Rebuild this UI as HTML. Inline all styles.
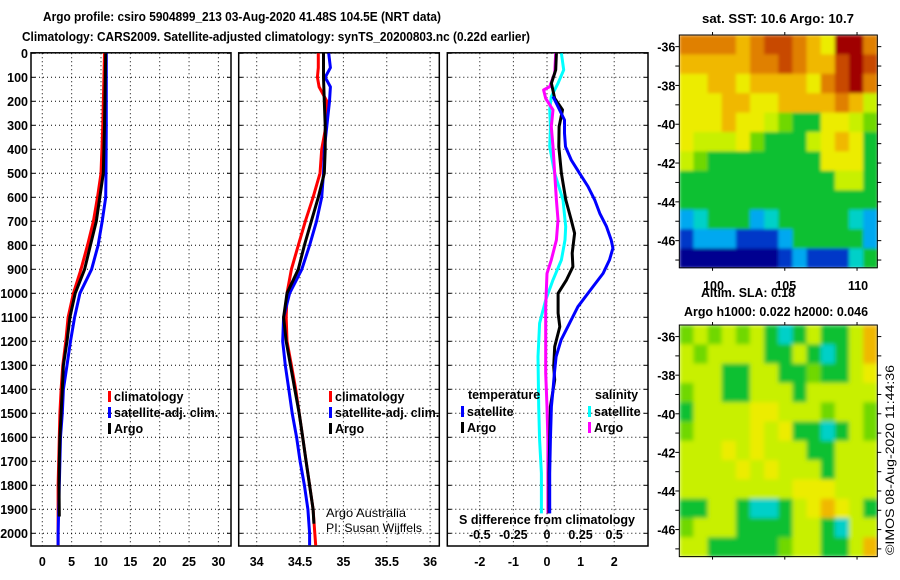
<!DOCTYPE html>
<html><head><meta charset="utf-8"><style>
html,body{margin:0;padding:0;background:#fff}
svg{display:block;font-family:"Liberation Sans",sans-serif}
.b{font-weight:bold;font-size:12.5px;fill:#000}
</style></head><body>
<svg id="c" width="900" height="580" viewBox="0 0 900 580" xmlns="http://www.w3.org/2000/svg">
<defs>
<filter id="blurS" x="0" y="0" width="1" height="1"><feGaussianBlur stdDeviation="2.2" edgeMode="duplicate"/></filter>
<filter id="blurT" x="0" y="0" width="1" height="1"><feGaussianBlur stdDeviation="1.5" edgeMode="duplicate"/></filter>
</defs>
<text x="242" y="21" class="b" text-anchor="middle" textLength="398" lengthAdjust="spacingAndGlyphs">Argo profile: csiro 5904899_213 03-Aug-2020 41.48S 104.5E (NRT data)</text>
<text x="22" y="41" class="b" textLength="508" lengthAdjust="spacingAndGlyphs">Climatology: CARS2009. Satellite-adjusted climatology: synTS_20200803.nc (0.22d earlier)</text>
<text x="778" y="23" class="b" text-anchor="middle" textLength="152" lengthAdjust="spacingAndGlyphs">sat. SST: 10.6 Argo: 10.7</text>
<text x="748" y="297" class="b" text-anchor="middle" textLength="94" lengthAdjust="spacingAndGlyphs">Altim. SLA: 0.18</text>
<text x="776" y="316" class="b" text-anchor="middle" textLength="184" lengthAdjust="spacingAndGlyphs">Argo h1000: 0.022 h2000: 0.046</text>
<text transform="translate(894,460) rotate(-90)" text-anchor="middle" font-size="12" textLength="190" lengthAdjust="spacingAndGlyphs">©IMOS 08-Aug-2020 11:44:36</text>
<text x="326" y="517" font-size="12" textLength="80" lengthAdjust="spacingAndGlyphs">Argo Australia</text>
<text x="326" y="532" font-size="12" textLength="96" lengthAdjust="spacingAndGlyphs">PI: Susan Wijffels</text>
<g id="plots"></g>
</svg>
<script>
// ---- data ----
const depthTicks=[0,100,200,300,400,500,600,700,800,900,1000,1100,1200,1300,1400,1500,1600,1700,1800,1900,2000];
const tempTicks=[0,5,10,15,20,25,30];
const salTicks=[34,34.5,35,35.5,36];
const diffTicks=[-2,-1,0,1,2];
const sdiffTickLabels=["-0.5","-0.25","0","0.25","0.5"];
const sdiffTicks=[-0.5,-0.25,0,0.25,0.5];
const profDepths=[0,300,500,600,700,800,900,1000,1100,1200,1300,1400,1500,1600,1700,1800,1900,2000,2050];
const tempClim=[10.6,10.3,10.0,9.4,8.7,7.7,6.6,5.3,4.4,4.0,3.5,3.2,3.0,2.9,2.8,2.7,2.7,2.7,2.7];
const tempSat=[10.9,10.9,10.85,10.8,10.2,9.5,8.4,6.4,5.5,4.8,4.2,3.6,3.4,3.1,3.0,2.9,2.8,2.7,2.7];
const tempArgoD=[0,300,500,600,700,800,900,1000,1100,1200,1300,1400,1500,1600,1700,1800,1930];
const tempArgo=[10.8,10.6,10.4,9.8,9.2,8.2,7.2,5.6,4.7,4.2,3.6,3.4,3.2,3.0,2.9,2.85,2.9];
const salD=[0,60,100,140,200,300,400,500,600,700,800,900,1000,1100,1200,1300,1400,1500,1600,1700,1800,1900,2000,2050];
const salClim=[34.71,34.71,34.70,34.72,34.81,34.80,34.75,34.73,34.65,34.56,34.48,34.40,34.35,34.34,34.35,34.40,34.45,34.49,34.53,34.57,34.61,34.65,34.67,34.68];
const salSat=[34.83,34.85,34.79,34.85,34.84,34.81,34.78,34.77,34.75,34.69,34.61,34.52,34.38,34.31,34.30,34.33,34.37,34.41,34.46,34.50,34.55,34.59,34.61,34.61];
const salArgoD=[0,100,200,300,400,500,600,700,800,900,1000,1100,1200,1300,1400,1500,1600,1700,1800,1900,1960];
const salArgo=[34.77,34.77,34.78,34.79,34.79,34.78,34.71,34.63,34.55,34.48,34.35,34.31,34.34,34.39,34.44,34.49,34.53,34.57,34.61,34.65,34.66];
const tdSatD=[180,278,333,389,444,500,555,611,667,722,778,812,861,917,972,1056,1125,1194,1264,1333,1403,1472,1611,1750,1917];
const tdSat=[0.18,0.52,0.52,0.55,0.72,0.97,1.22,1.42,1.57,1.77,1.91,1.96,1.86,1.67,1.37,0.92,0.67,0.42,0.27,0.22,0.18,0.13,0.10,0.08,0.08];
const tdArgoD=[0,69,125,188,236,306,389,500,611,694,750,833,889,944,1000,1083,1139,1222,1306,1361,1472,1611,1750,1917];
const tdArgo=[0.28,0.26,0.13,0.23,0.46,0.36,0.35,0.43,0.56,0.72,0.82,0.75,0.77,0.58,0.33,0.33,0.38,0.23,0.20,0.23,0.10,0.08,0.06,0.06];
const sdD=[0,69,125,180,236,306,389,500,611,722,778,861,944,1028,1125,1264,1472,1611,1750,1917];
const sdSat=[0.107,0.124,0.082,0.032,0.020,0.025,0.020,0.057,0.119,0.139,0.134,0.107,0.045,-0.010,-0.055,-0.067,-0.062,-0.055,-0.042,-0.042];
const sdArgoD=[0,83,139,153,188,236,306,389,500,611,694,778,861,917,1056,1194,1333,1472,1611,1917];
const sdArgo=[0.065,0.057,0.020,-0.025,-0.010,0.045,0.032,0.045,0.057,0.070,0.082,0.070,0.032,0.000,-0.010,-0.010,-0.010,0.000,0.007,0.007];
const lonTicks=[100,105,110];
const latTicks=[-36,-38,-40,-42,-44,-46];
const sstGrid=[
[9,9,9,9,8,9,10,10,9,8,7,11,11,9],
[8,8,8,8,8,9,9,10,9,8,8,10,11,10],
[7,7,8,8,7,8,8,8,8,7,9,10,11,9],
[7,7,7,8,8,7,7,8,8,8,8,9,8,6],
[7,7,7,8,7,7,6,5,4,4,7,7,6,5],
[7,6,6,6,7,5,4,4,4,6,7,8,7,4],
[6,5,4,4,4,4,4,4,4,4,7,7,7,4],
[4,4,4,4,4,4,4,4,4,4,4,6,6,4],
[4,4,4,4,4,4,4,4,4,4,4,4,4,4],
[2,3,4,4,4,2,3,4,4,4,4,4,3,2],
[1,2,2,2,1,1,1,2,4,4,4,4,4,2],
[0,0,0,0,0,0,0,1,2,1,1,1,3,4]];
const slaGrid=[
[5,6,5,6,5,6,4,3,4,6,4,4,6,8],
[6,5,6,6,6,6,4,4,6,4,3,4,6,8],
[6,6,6,4,4,6,6,4,4,5,4,4,6,7],
[5,6,6,4,4,6,6,6,4,6,6,6,6,6],
[4,6,6,6,6,7,7,6,6,6,5,6,6,5],
[5,6,6,6,6,7,6,7,4,4,3,4,6,5],
[6,6,6,7,6,7,6,6,6,4,4,6,6,6],
[6,6,6,6,7,6,7,6,6,6,4,6,6,6],
[6,6,6,6,6,6,6,6,7,7,7,6,6,6],
[4,4,6,6,4,3,3,4,6,7,8,7,6,4],
[5,6,6,6,4,4,4,4,6,6,4,3,6,6],
[6,6,4,4,4,4,4,5,6,6,4,4,6,8]];
const palette=["#000090","#0038c8","#00a8f0","#00d0c8","#10c030","#70d800","#c8f000","#ecec00","#f0b800","#e08000","#c84800","#a00000"];

// ---- helpers ----
const NS="http://www.w3.org/2000/svg";
const root=document.getElementById('plots');
function mk(tag,attrs,parent){const e=document.createElementNS(NS,tag);for(const k in attrs)e.setAttribute(k,attrs[k]);(parent||root).appendChild(e);return e;}
const Y0=53.3,YS=0.24,YB=546;
const yD=d=>Y0+d*YS;
function panel(name,x0,x1,xf,ticks,labels){
  const g=mk('g',{});
  
  
  depthTicks.forEach(d=>{const l=mk('line',{x1:x0,x2:x1,y1:yD(d),y2:yD(d),stroke:'#000','stroke-width':1,'stroke-dasharray':'1,3'},g);
    
    
    mk('line',{x1:x0,x2:x0+4,y1:yD(d),y2:yD(d),stroke:'#000'},g);mk('line',{x1:x1-4,x2:x1,y1:yD(d),y2:yD(d),stroke:'#000'},g);});
  ticks.forEach((t,i)=>{const x=xf(t);const l=mk('line',{x1:x,x2:x,y1:Y0,y2:YB,stroke:'#000','stroke-dasharray':'1,3'},g);
    
    
    const tx=mk('text',{x:x,y:566,class:'b','text-anchor':'middle'},g);tx.textContent=labels[i];
    
    });
  const r=mk('rect',{x:x0,y:Y0-0.5,width:x1-x0,height:YB-Y0+0.5,fill:'none',stroke:'#000','stroke-width':1.5},g);
  
  
  return g;
}
function line(g,name,ds,vs,xf,col){
  const p=mk('polyline',{points:ds.map((d,i)=>xf(vs[i]).toFixed(1)+','+yD(d).toFixed(1)).join(' '),fill:'none',stroke:col,'stroke-width':3,'stroke-linejoin':'round'},g);
  
  
}
function legend(g,x,y,col,txt){
  mk('rect',{x:x-3,y:y-9,width:3,height:11,fill:col},g);
  const t=mk('text',{x:x+3,y:y+1,class:'b'},g);t.textContent=txt;
  
  
}
depthTicks.forEach(d=>{const t=mk('text',{x:28,y:yD(d)+4.5,class:'b','text-anchor':'end'});t.textContent=d;
  
  });
const xT=v=>42.3+v*5.87;
const g1=panel('temperature-panel',31,231,xT,tempTicks,tempTicks.map(String));
line(g1,'temp-climatology-line',profDepths,tempClim,xT,'#ff0000');
line(g1,'temp-satellite-line',profDepths,tempSat,xT,'#0000ff');
line(g1,'temp-argo-line',tempArgoD,tempArgo,xT,'#000');
legend(g1,111,400,'#ff0000','climatology');legend(g1,111,416,'#0000ff','satellite-adj. clim.');legend(g1,111,432,'#000','Argo');
const xS=v=>256.7+(v-34)*86.7;
const g2=panel('salinity-panel',238.7,439.3,xS,salTicks,salTicks.map(String));
line(g2,'sal-climatology-line',salD,salClim,xS,'#ff0000');
line(g2,'sal-satellite-line',salD,salSat,xS,'#0000ff');
line(g2,'sal-argo-line',salArgoD,salArgo,xS,'#000');
legend(g2,332,400,'#ff0000','climatology');legend(g2,332,416,'#0000ff','satellite-adj. clim.');legend(g2,332,432,'#000','Argo');
const xDf=v=>547+v*33.6;
const xSd=v=>547+v*4*33.6;
const g3=panel('difference-panel',447.3,648,xDf,diffTicks,diffTicks.map(String));
line(g3,'sdiff-satellite-line',sdD,sdSat,xSd,'#00ffff');
line(g3,'sdiff-argo-line',sdArgoD,sdArgo,xSd,'#ff00ff');
line(g3,'tdiff-argo-line',tdArgoD,tdArgo,xDf,'#000');
line(g3,'tdiff-satellite-line',tdSatD,tdSat,xDf,'#0000ff');
{const t=mk('text',{x:468,y:399,class:'b'},g3);t.textContent='temperature';
 
 
 const s=mk('text',{x:595,y:399,class:'b'},g3);s.textContent='salinity';
 
 }
legend(g3,464,415,'#0000ff','satellite');legend(g3,464,431,'#000','Argo');
legend(g3,591,415,'#00ffff','satellite');legend(g3,591,431,'#ff00ff','Argo');
{const t=mk('text',{x:547,y:524,class:'b','text-anchor':'middle',textLength:176,lengthAdjust:'spacingAndGlyphs'},g3);t.textContent='S difference from climatology';
 
 }
sdiffTicks.forEach((v,i)=>{const t=mk('text',{x:xSd(v),y:539,class:'b','text-anchor':'middle'},g3);t.textContent=sdiffTickLabels[i];
 
 });
function map(name,grid,top,latTop,latPer,showLon,filt){
  const X0=679.3,X1=877.3,lon0=97.7,lonS=14.45;
  const bottom=top+12*latPer;
  const g=mk('g',{});
  
  
  const cells=mk('g',{filter:'url(#'+filt+')'},g);
  const cw=(X1-X0)/grid[0].length,ch=latPer;
  grid.forEach((row,r)=>row.forEach((v,c)=>{const cell=mk('rect',{x:(X0+c*cw).toFixed(2),y:(top+r*ch).toFixed(2),width:(cw+0.6).toFixed(2),height:(ch+0.6).toFixed(2),fill:palette[v]},cells);
    
    }));
  const fr=mk('rect',{x:X0,y:top,width:X1-X0,height:bottom-top,fill:'none',stroke:'#000','stroke-width':1},g);
  
  
  const yL=lat=>top+(latTop-lat)*latPer;
  for(let lat=-36;lat>=-47;lat--){const y=yL(lat);mk('line',{x1:X0-4,x2:X0,y1:y,y2:y,stroke:'#000'},g);mk('line',{x1:X1,x2:X1+4,y1:y,y2:y,stroke:'#000'},g);}
  latTicks.forEach(lat=>{const t=mk('text',{x:X0-4,y:yL(lat)+5,class:'b','text-anchor':'end'},g);t.textContent=lat;
    
    });
  lonTicks.forEach(lon=>{const x=X0+(lon-lon0)*lonS;mk('line',{x1:x,x2:x,y1:top-3,y2:top,stroke:'#000'},g);mk('line',{x1:x,x2:x,y1:bottom,y2:bottom+3,stroke:'#000'},g);
    if(showLon){const t=mk('text',{x:x+1,y:bottom+22,class:'b','text-anchor':'middle'},g);t.textContent=lon;
      
      }});
}
map('sst-map',sstGrid,35,-35.4,19.4,true,'blurT');
map('sla-map',slaGrid,325,-35.4,19.3,false,'blurS');
</script>
</body></html>
